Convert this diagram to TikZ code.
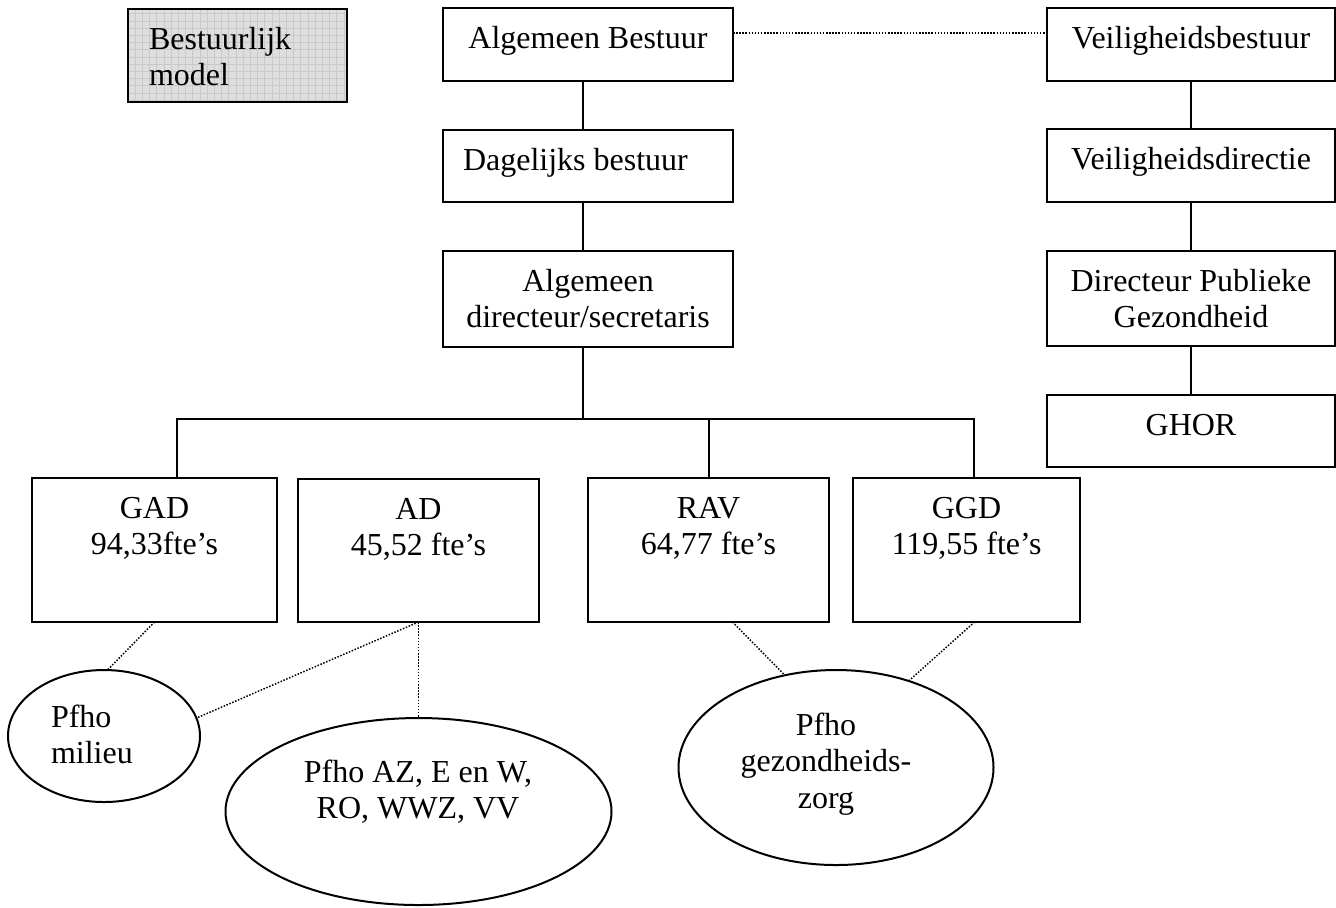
\documentclass[tikz,border=0pt]{standalone}
\usepackage{fontspec}
\setmainfont{Liberation Serif}
\usetikzlibrary{shapes.geometric}

% centred text block, first baseline 20pt below the top edge
\newcommand{\boxtxt}[3]{\parbox[c][#2][t]{#1}{\centering\rule{0pt}{20pt}#3\par}}
% left-aligned text block with an indent
\newcommand{\lboxtxt}[4]{\parbox[c][#2][t]{#1}{\raggedright\leftskip=#3\rule{0pt}{20pt}#4\par}}

\tikzset{
  orgbox/.style={draw, line width=1pt, inner sep=0pt, outer sep=0pt, fill=white},
  gridbox/.style={draw, line width=1pt, inner sep=0pt, outer sep=0pt, fill=black!13,
    path picture={\draw[black!21, line width=0.35pt]
      (path picture bounding box.south west) grid[step=3.6pt]
      (path picture bounding box.north east);}},
  oval/.style={ellipse, draw, line width=1pt, inner sep=0pt, outer sep=0pt},
  txt/.style={inner sep=0pt, outer sep=0pt},
  conn/.style={line width=1pt},
  dotln/.style={line width=0.75pt, dash pattern=on 0.75pt off 0.8pt},
}

\begin{document}
\begin{tikzpicture}[x=0.5pt, y=-0.5pt, font=\fontsize{16pt}{18.4pt}\selectfont]
\useasboundingbox (0,0) rectangle (1336,907);

% title box
\node[gridbox] (bm) at (237.5,55.5) {\lboxtxt{109.5pt}{46.5pt}{10.5pt}{Bestuurlijk\\model}};

% central column
\node[orgbox] (ab)  at (588,44.5) {\boxtxt{145pt}{36.5pt}{Algemeen Bestuur}};
\node[orgbox] (db)  at (588,166)  {\lboxtxt{145pt}{36pt}{10pt}{Dagelijks bestuur}};
\node[orgbox] (dir) at (588,299)  {\boxtxt{145pt}{48pt}{Algemeen\\directeur/secretaris}};

% safety column
\node[orgbox] (vb)   at (1191,44.5)   {\boxtxt{144pt}{36.5pt}{Veiligheidsbestuur}};
\node[orgbox] (vd)   at (1191,165.5)  {\boxtxt{144pt}{36.5pt}{Veiligheidsdirectie}};
\node[orgbox] (dpg)  at (1191,298.5)  {\boxtxt{144pt}{47.5pt}{Directeur Publieke\\Gezondheid}};
\node[orgbox] (ghor) at (1191,431)    {\boxtxt{144pt}{36pt}{GHOR}};

% services
\node[orgbox] (gad) at (154.5,550)   {\boxtxt{122.5pt}{72pt}{GAD\\94,33fte’s}};
\node[orgbox] (adb) at (418.5,550.5) {\boxtxt{120.5pt}{71.5pt}{AD\\45,52 fte’s}};
\node[orgbox] (rav) at (708.5,550)   {\boxtxt{120.5pt}{72pt}{RAV\\64,77 fte’s}};
\node[orgbox] (ggd) at (966.5,550)   {\boxtxt{113.5pt}{72pt}{GGD\\119,55 fte’s}};

% portfolio holders
\node[oval, minimum width=96pt,  minimum height=66pt]   (pm) at (104,736)   {};
\node[oval, minimum width=193pt, minimum height=93.5pt] (az) at (418.5,811.5) {};
\node[oval, minimum width=157.5pt, minimum height=97.5pt] (gz) at (836,767.5) {};

\node[txt, anchor=base west] (pm-t) at (51,727)
  {\parbox[t]{60pt}{\raggedright Pfho\\milieu}};
\node[txt, anchor=base] (az-t) at (418,782)
  {\parbox[t]{150pt}{\centering Pfho AZ, E en W,\\RO, WWZ, VV}};
\node[txt, anchor=base] (gz-t) at (826,735)
  {\parbox[t]{120pt}{\centering Pfho\\gezondheids-\\zorg}};

% hierarchy lines
\coordinate (spine) at (583,0);
\coordinate (barL) at (177,419);
\coordinate (barR) at (974,419);
\draw[conn] (ab.south -| spine) -- (db.north -| spine);
\draw[conn] (db.south -| spine) -- (dir.north -| spine);
\draw[conn] (dir.south -| spine) -- (spine |- barL);
\draw[conn] (gad.north -| barL) -- (barL) -- (barR) -- (ggd.north -| barR);
\draw[conn] (rav.north) -- (rav.north |- barL);

\draw[conn] (vb.south) -- (vd.north);
\draw[conn] (vd.south) -- (dpg.north);
\draw[conn] (dpg.south) -- (ghor.north);

% dotted relations
\coordinate (dl) at (0,33);
\draw[dotln] (ab.east |- dl) -- (vb.west |- dl);
\draw[dotln] (gad.south) -- (pm.87);
\draw[dotln] (adb.south) -- (pm.11);
\draw[dotln] (adb.south) -- (az.north);
\draw[dotln] ([xshift=12pt]rav.south) -- (gz.119);
\draw[dotln] ([xshift=4pt]ggd.south) -- (gz.50);
\end{tikzpicture}
\end{document}
